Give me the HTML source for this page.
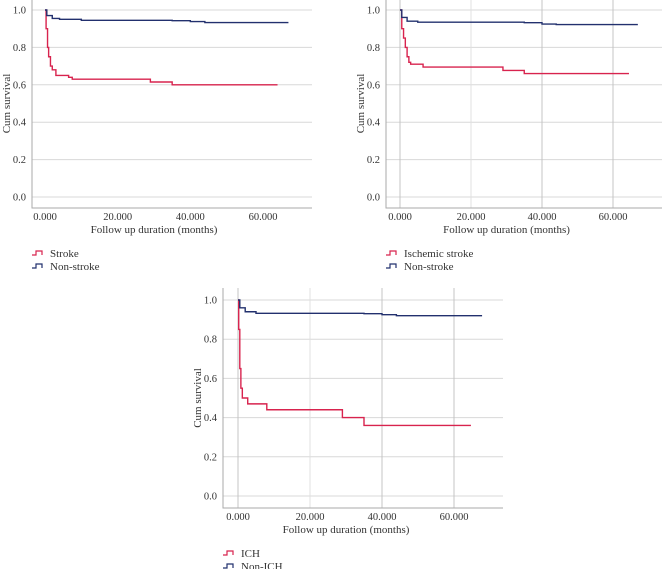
<!DOCTYPE html>
<html><head><meta charset="utf-8"><style>
body{margin:0;background:#fff;width:662px;height:569px;overflow:hidden;font-family:"Liberation Serif",serif}
svg text{font-family:"Liberation Serif",serif;fill:#333}
</style></head><body>
<svg id="c" width="662" height="569"></svg>
<script>
const yTicks=[0,0.2,0.4,0.6,0.8,1.0];
const xTicks=[0,20,40,60];
const xTickLabels=["0.000","20.000","40.000","60.000"];
const p1StrokeT=[0,0.3,0.7,1,1.5,2,3,6.5,7.5,29,35,64];
const p1StrokeS=[1,0.9,0.8,0.75,0.7,0.68,0.65,0.64,0.63,0.615,0.6,0.6];
const p1NonT=[0,0.5,2,4,10,35,40,44,67];
const p1NonS=[1,0.97,0.955,0.95,0.945,0.943,0.938,0.933,0.933];
const p2IscT=[0,0.5,1,1.5,2,2.5,3,6.5,29,35,64.5];
const p2IscS=[1,0.9,0.85,0.8,0.75,0.72,0.71,0.695,0.677,0.66,0.66];
const p2NonT=[0,0.5,2,5,35,40,44,67];
const p2NonS=[1,0.96,0.94,0.935,0.932,0.925,0.922,0.922];
const p3IchT=[0,0.2,0.5,0.8,1.2,2.7,8,29,35,64.7];
const p3IchS=[1,0.85,0.65,0.55,0.5,0.47,0.44,0.4,0.36,0.36];
const p3NonT=[0,0.5,2,5,35,40,44,67.8];
const p3NonS=[1,0.96,0.94,0.932,0.93,0.925,0.92,0.92];
const legend1=["Stroke","Non-stroke"],legend2=["Ischemic stroke","Non-stroke"],legend3=["ICH","Non-ICH"];
const RED="#d8234e",BLUE="#22306e";
const svg=document.getElementById('c');const NS="http://www.w3.org/2000/svg";
function el(t,a,p){const e=document.createElementNS(NS,t);for(const k in a)e.setAttribute(k,a[k]);(p||svg).appendChild(e);return e;}
function panel(cfg,name){
 const g=el('g',{});
 
 
 const xs=v=>cfg.x0+(v/60)*(cfg.x60-cfg.x0);
 const ys=v=>cfg.yb-(v)*(cfg.yb-cfg.yt);
 yTicks.forEach(v=>{const l=el('line',{x1:cfg.left,x2:cfg.right,y1:ys(v),y2:ys(v),stroke:'#d8d8d8','stroke-width':1},g);
  
  const t=el('text',{x:cfg.left-6,y:ys(v)+3.5,'font-size':10.5,'text-anchor':'end'},g);t.textContent=v.toFixed(1);
  });
 xTicks.forEach((v,i)=>{if(cfg.vgrid){const l=el('line',{x1:xs(v),x2:xs(v),y1:cfg.yt-12,y2:cfg.axisY,stroke:i==1?'#e0e0e0':'#c4c4c4','stroke-width':1},g);
  }
  const t=el('text',{x:xs(v),y:cfg.axisY+12,'font-size':10.5,'text-anchor':'middle'},g);t.textContent=xTickLabels[i];
  });
 const ax=el('path',{d:`M${cfg.left},${cfg.yt-12}V${cfg.axisY}H${cfg.right}`,fill:'none',stroke:'#aaa','stroke-width':1},g);
 
 const yt=el('text',{x:0,y:0,'font-size':11,'text-anchor':'middle',transform:`translate(${cfg.left-22},${(cfg.yt+cfg.yb)/2}) rotate(-90)`},g);yt.textContent='Cum survival';
 
 const xt=el('text',{x:(cfg.x0+cfg.x60)/2,y:cfg.axisY+25,'font-size':11,'text-anchor':'middle'},g);xt.textContent='Follow up duration (months)';
 
 cfg.series.forEach((s,si)=>{let d=`M${xs(s.t[0])},${ys(s.s[0])}`;
  for(let i=1;i<s.t.length;i++){d+=`H${xs(s.t[i])}V${ys(s.s[i])}`;}
  const p=el('path',{d,fill:'none',stroke:s.c,'stroke-width':1.4},g);
  
  const ly=cfg.axisY+45+si*13;
  const m=el('path',{d:`M${cfg.left},${ly+2}h4v-4h6v4`,fill:'none',stroke:s.c,'stroke-width':1.2},g);
  
  const lt=el('text',{x:cfg.left+18,y:ly+4,'font-size':11},g);lt.textContent=cfg.legend[si];
  });
}
panel({left:32,right:312,x0:45,x60:263,yt:10,yb:197,axisY:208,vgrid:false,legend:legend1,
 series:[{t:p1StrokeT,s:p1StrokeS,c:RED,n:'stroke-curve'},{t:p1NonT,s:p1NonS,c:BLUE,n:'non-stroke-curve'}]},'panel-stroke');
panel({left:386,right:662,x0:400,x60:613,yt:10,yb:197,axisY:208,vgrid:true,legend:legend2,
 series:[{t:p2IscT,s:p2IscS,c:RED,n:'ischemic-stroke-curve'},{t:p2NonT,s:p2NonS,c:BLUE,n:'non-stroke-curve'}]},'panel-ischemic');
panel({left:223,right:503,x0:238,x60:454,yt:300,yb:496,axisY:508,vgrid:true,legend:legend3,
 series:[{t:p3IchT,s:p3IchS,c:RED,n:'ich-curve'},{t:p3NonT,s:p3NonS,c:BLUE,n:'non-ich-curve'}]},'panel-ich');
</script>
</body></html>
